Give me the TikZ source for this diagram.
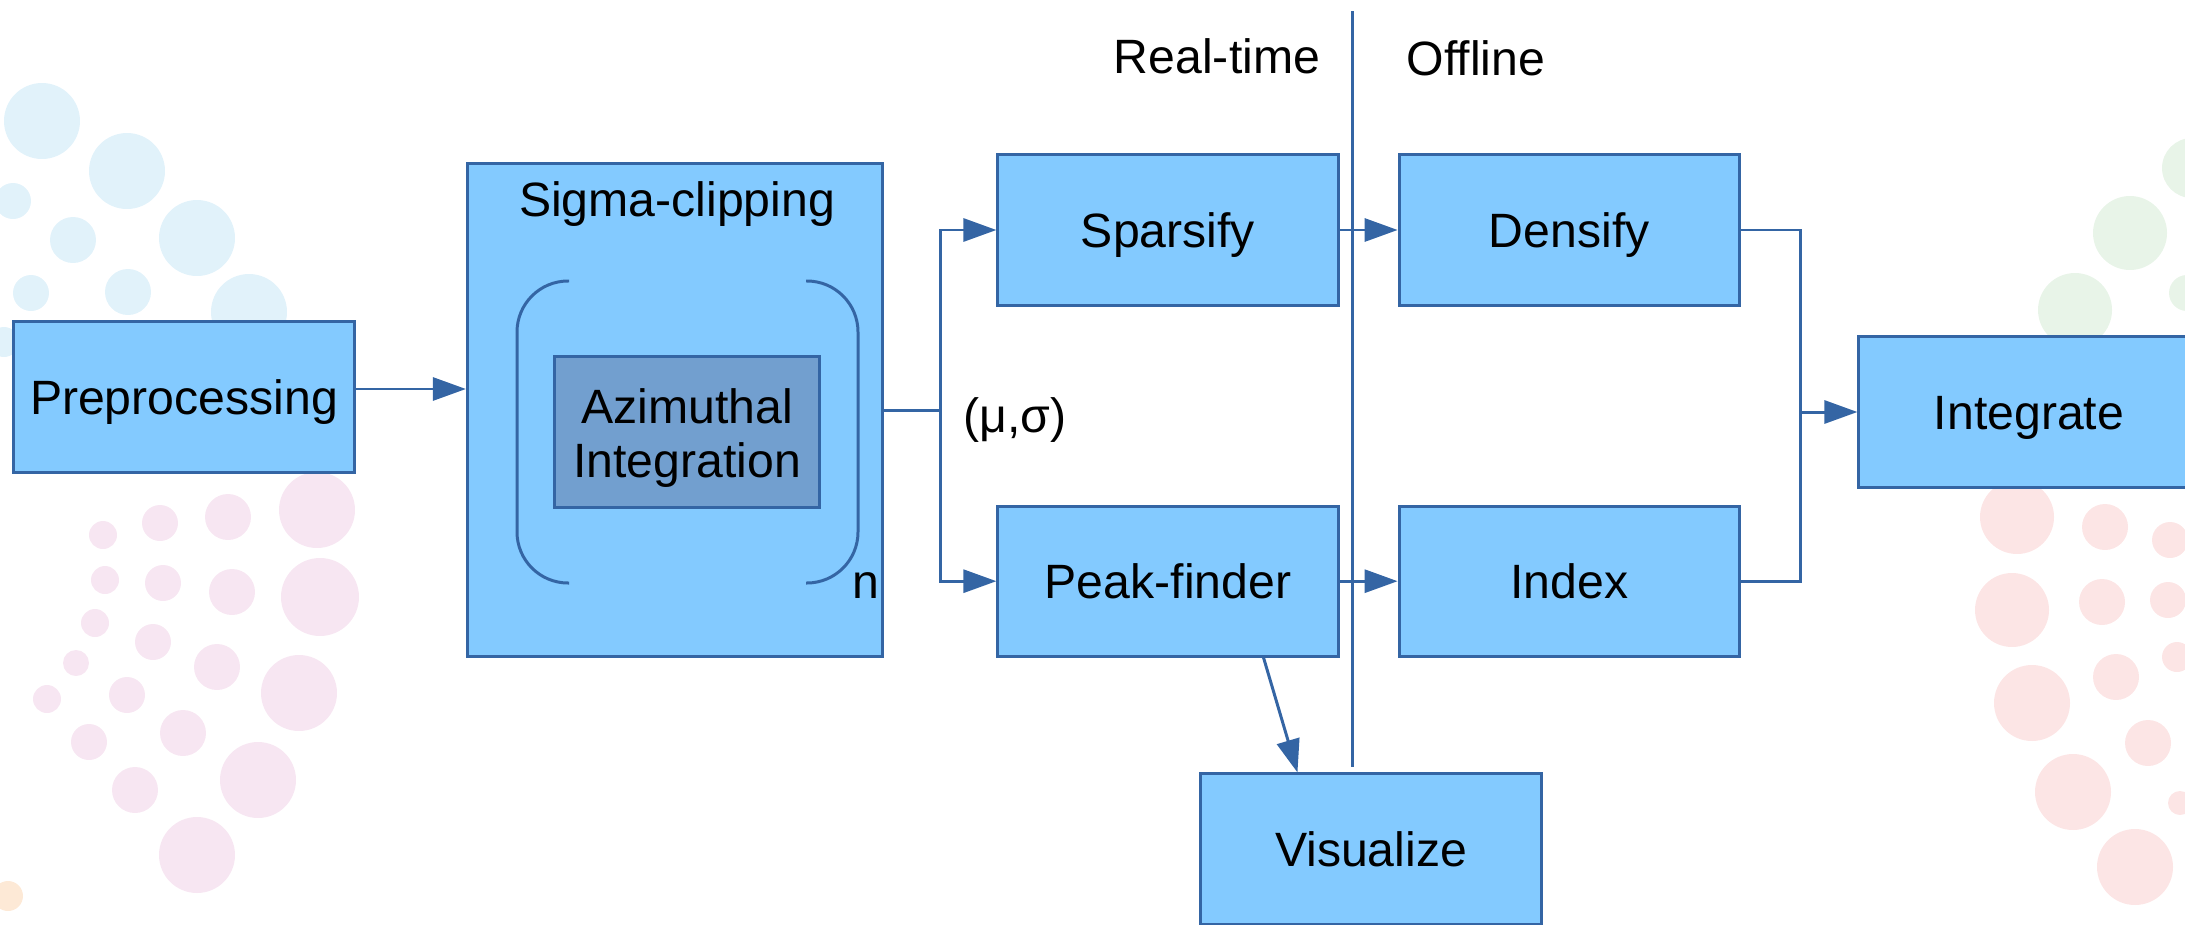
\documentclass[tikz,border=0pt]{standalone}
\usepackage{fontspec}
\setmainfont{Liberation Sans}
\usetikzlibrary{positioning,arrows.meta}

\definecolor{boxfill}{HTML}{83CAFF}
\definecolor{boxline}{HTML}{3465A4}
\definecolor{azfill}{HTML}{729FCF}
\definecolor{dotcyan}{HTML}{E1F2FA}
\definecolor{dotpink}{HTML}{F7E6F2}
\definecolor{dotgreen}{HTML}{E8F4E8}
\definecolor{dotred}{HTML}{FCE5E5}
\definecolor{dotorange}{HTML}{FDE9D6}

\tikzset{
  wire/.style={draw=boxline, line width=0.85pt},
  arr/.style={wire, -{Triangle[length=0.33cm,width=0.23cm]}},
  box/.style={wire, fill=boxfill, inner sep=0pt},
  block/.style={box, minimum width=3.4cm, minimum height=1.5cm, text height=10pt, text depth=0pt},
  tag/.style={text height=10pt, text depth=0pt, inner sep=0pt}
}

\begin{document}
\begin{tikzpicture}[x=0.01cm, y=-0.01cm, font=\fontsize{13.7pt}{15.4pt}\selectfont]
\useasboundingbox (0,0) rectangle (2185,924);

% faint dots in the background
\foreach \x/\y/\r in {42/121/38, 127/171/38, 13/201/18, 73/240/23, 197/238/38, 31/293/18, 128/292/23, 249/312/38, 4/342/15}
  \fill[dotcyan] (\x,\y) circle[radius=\r];
\foreach \x/\y/\r in {317/510/38, 228/517/23, 160/523/18, 103/535/14, 320/597/39, 232/592/23, 163/583/18, 105/580/14,
    95/623/14, 153/642/18, 217/667/23, 299/693/38, 76/663/13, 127/695/18, 47/699/14, 183/733/23, 89/742/18,
    258/780/38, 135/790/23, 197/855/38}
  \fill[dotpink] (\x,\y) circle[radius=\r];
\fill[dotorange] (8,896) circle[radius=15];
\foreach \x/\y/\r in {2192/168/30, 2130/233/37, 2187/293/18, 2075/310/37}
  \fill[dotgreen] (\x,\y) circle[radius=\r];
\foreach \x/\y/\r in {2017/517/37, 2105/527/23, 2170/540/18, 2012/610/37, 2102/602/23, 2168/600/18, 2177/657/15,
    2116/677/23, 2032/703/38, 2148/743/23, 2073/792/38, 2180/803/12, 2135/867/38}
  \fill[dotred] (\x,\y) circle[radius=\r];

% real-time / offline split
\coordinate (divtop) at (1352,11);
\coordinate (divbot) at (1352,767);
\draw[wire] (divtop) -- (divbot);
\node[tag] (rt) at (1217,56) {Real-time};
\node[tag] (off) at (1476,58) {Offline};

\node[block] (prep) at (184,397) {Preprocessing};

\node[box, minimum width=4.15cm, minimum height=4.93cm] (sigma) at (675,410) {};
\node[anchor=base] (sclabel) at (677,216) {Sigma-clipping};
\draw[wire, rounded corners=0.51cm] (569,281) -| (517,583) -- (569,583);
\draw[wire, rounded corners=0.51cm] (806,281) -| (858,583) -- (806,583);
\node[box, fill=azfill, minimum width=2.64cm, minimum height=1.5cm, align=center, text height=28.8pt] (azi) at (687,432) {Azimuthal\\Integration};
\node (nrep) at (866,586) {n};

\node[block] (spars) at (1168,230) {Sparsify};
\node[block, below=1.98cm of spars] (peak) {Peak-finder};
\node[block, right=0.58cm of spars] (dens) {Densify};
\node[block, right=0.58cm of peak] (index) {Index};
\node[block] (integ) at (2029,412) {Integrate};
\node[block] (visu) at (1371,849) {Visualize};
\node (musig) at (1015,420) {(μ,σ)};

\coordinate (split) at (940,410);
\coordinate (merge) at (1800,412);

\draw[arr] ([yshift=0.08cm]prep.east) -- ([yshift=0.08cm]prep.east -| sigma.west);
\draw[wire] (sigma.east) -- (split);
\draw[arr] (split) |- (spars.west);
\draw[arr] (split) |- (peak.west);
\draw[arr] (spars) -- (dens);
\draw[arr] (peak) -- (index);
\draw[wire] (dens.east) -| (merge) |- (index.east);
\draw[arr] (merge) -- (integ.west);
\draw[arr] ([xshift=-0.76cm]peak.south east) -- ([xshift=0.98cm]visu.north west);
\end{tikzpicture}
\end{document}
